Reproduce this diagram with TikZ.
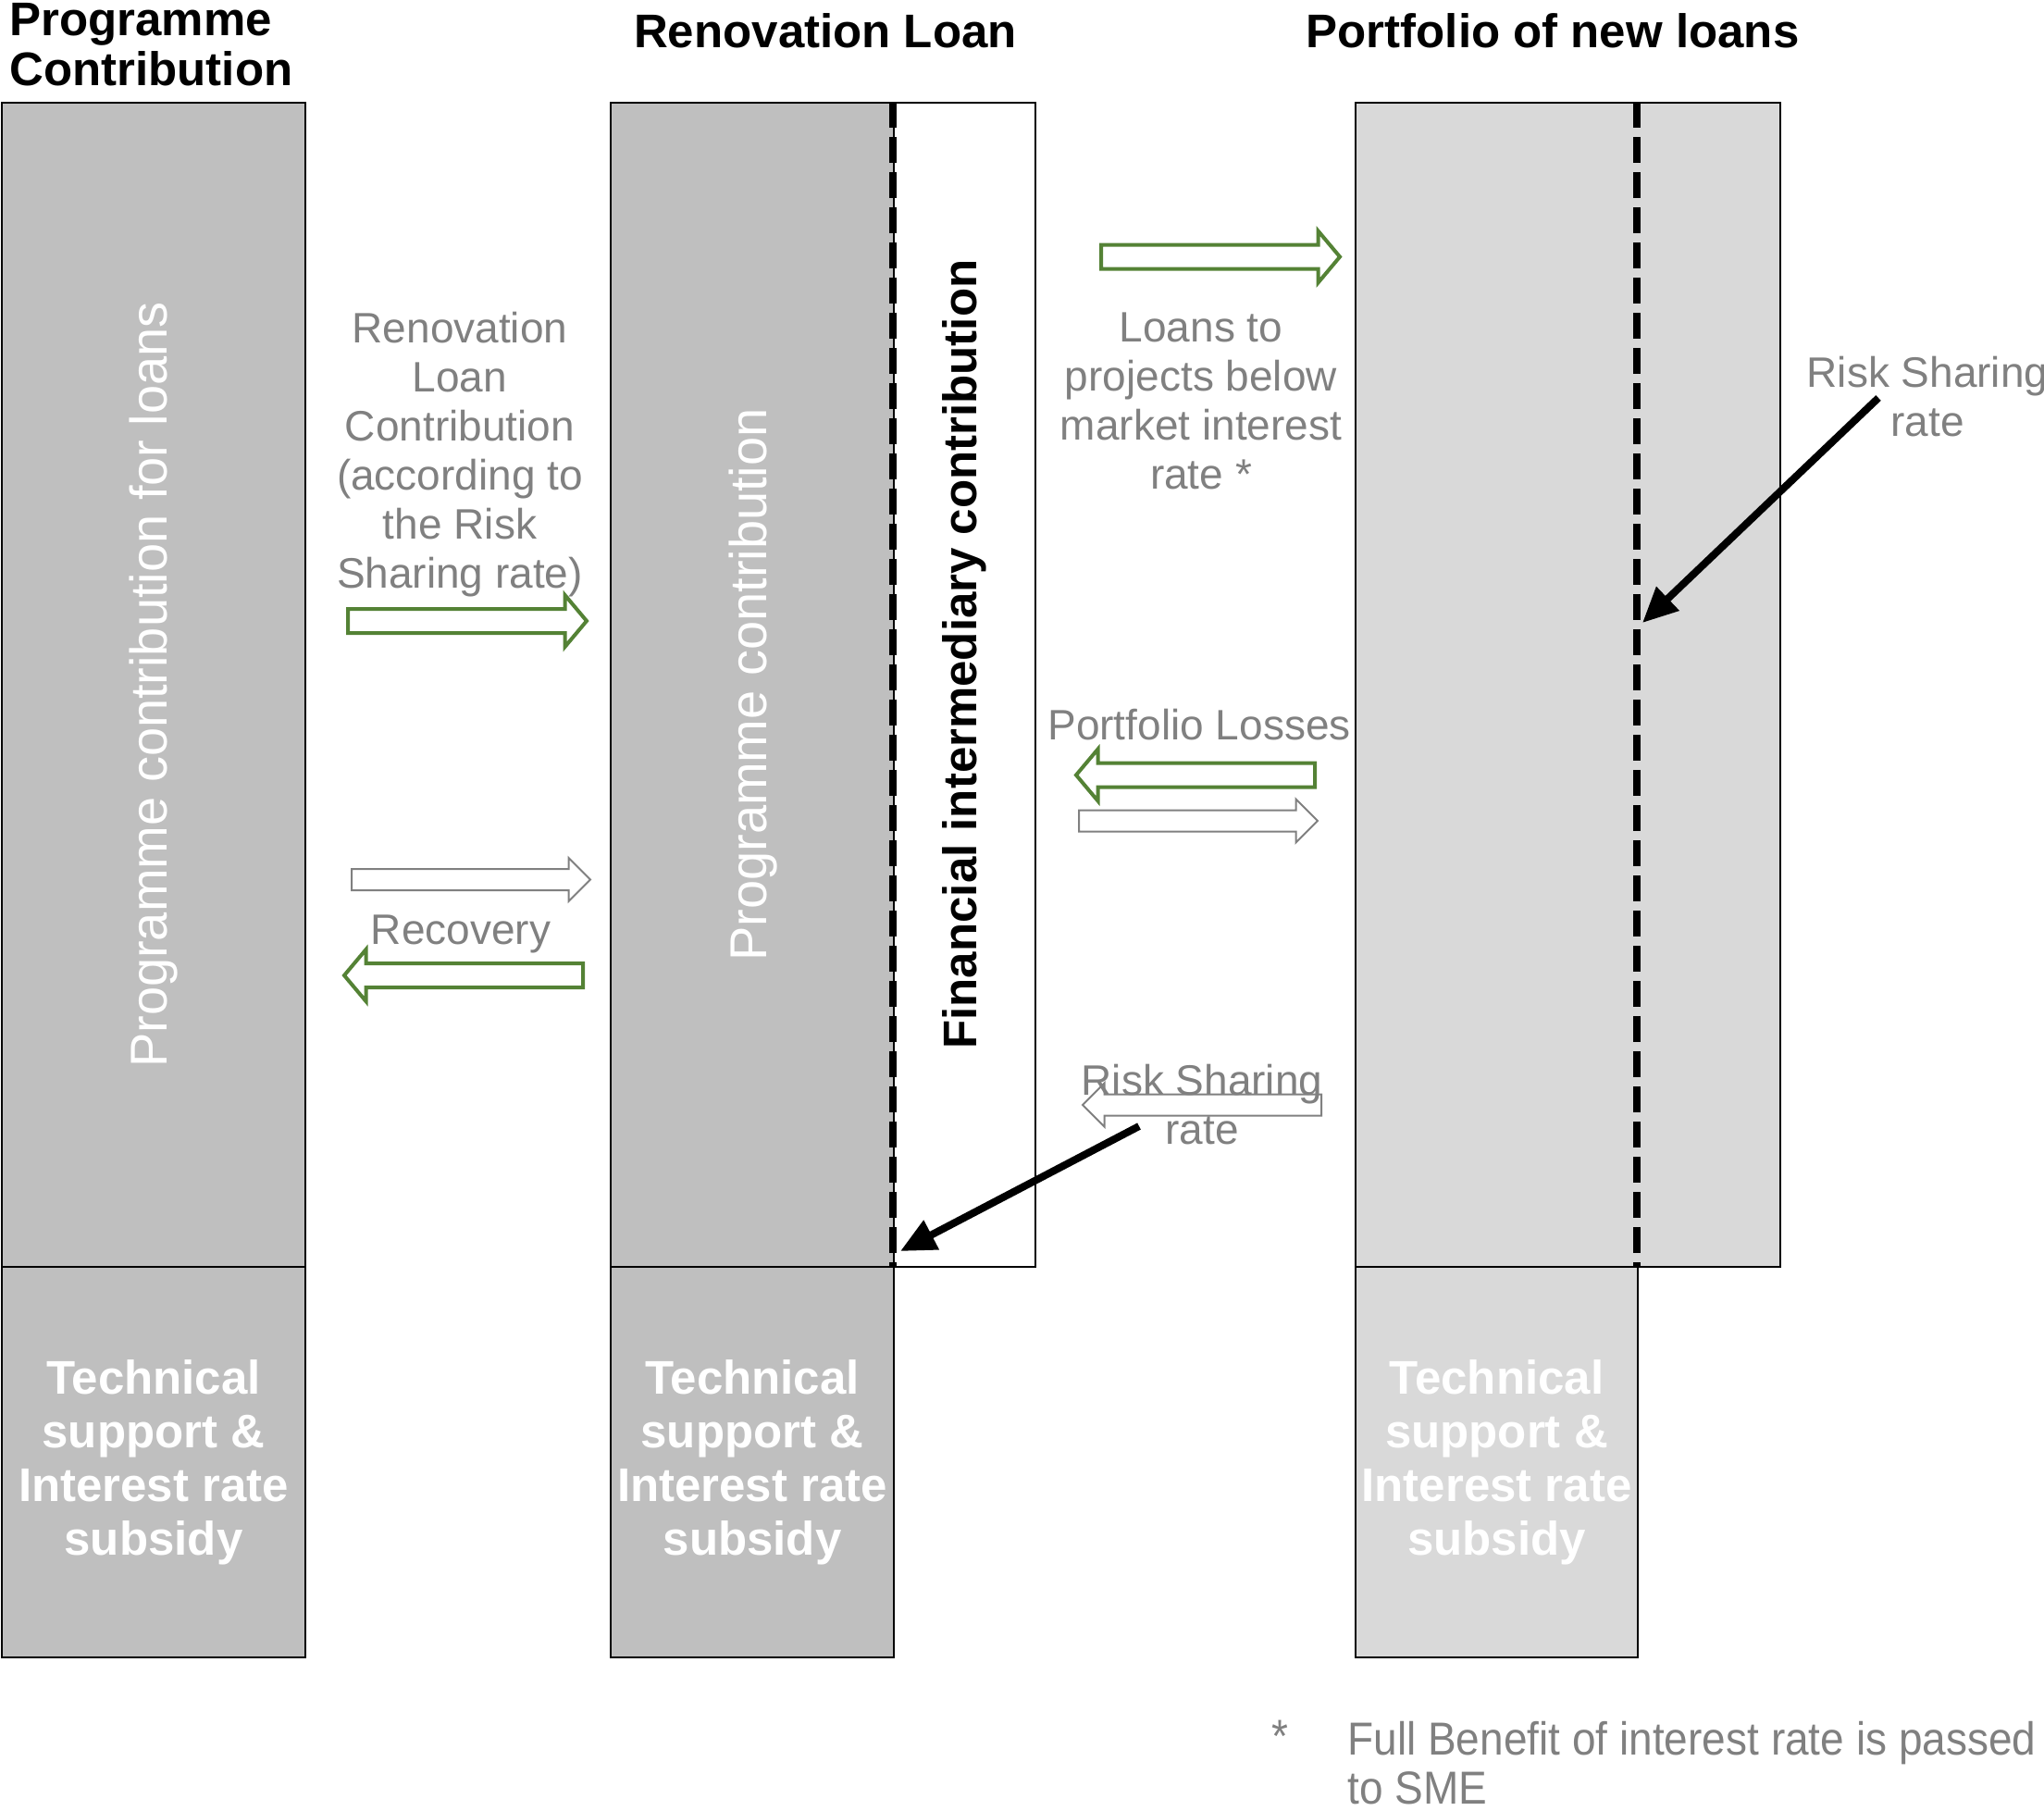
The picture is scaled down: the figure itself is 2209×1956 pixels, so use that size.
\documentclass[tikz,border=0pt]{standalone}
\usepackage{fontspec}
\setmainfont{Liberation Sans}
\newfontfamily\notefont[FakeStretch=0.92]{Liberation Sans}
\usetikzlibrary{arrows.meta,shapes.arrows}
\definecolor{boxgray}{RGB}{191,191,191}
\definecolor{boxlight}{RGB}{217,217,217}
\definecolor{flowgreen}{RGB}{84,130,53}
\definecolor{labelgray}{RGB}{128,128,128}

\begin{document}
\begin{tikzpicture}[x=0.5pt,y=-0.5pt,
  box/.style={draw,line width=1pt,inner sep=0pt,anchor=north west,fill=boxgray},
  tallbox/.style={box,minimum height=629pt},
  lowbox/.style={box,minimum height=211pt,align=center,text=white,font=\fontsize{25.5pt}{29pt}\selectfont\bfseries},
  title/.style={inner sep=0pt,font=\fontsize{25.5pt}{27pt}\selectfont\bfseries},
  flowlabel/.style={inner sep=0pt,align=center,text=labelgray,font=\fontsize{23pt}{26.5pt}\selectfont},
  sidelabel/.style={inner sep=0pt,rotate=90,text=white,font=\fontsize{28pt}{32pt}\selectfont},
  greenflow/.style={single arrow,draw=flowgreen,line width=2pt,fill=white,inner sep=0pt,inner ysep=5.5pt,minimum width=0pt,minimum height=129pt,single arrow head extend=7.5pt,single arrow tip angle=100},
  grayflow/.style={single arrow,draw=labelgray,line width=1pt,fill=white,inner sep=0pt,inner ysep=5.25pt,minimum width=0pt,minimum height=129pt,single arrow head extend=6pt,single arrow tip angle=90},
  backward/.style={shape border rotate=180},
  dashline/.style={line width=4pt,dash pattern=on 14pt off 5pt},
  riskarrow/.style={line width=4pt,-{Triangle[length=19pt,width=17pt]}}]
  \useasboundingbox (0,0) rectangle (2209,1956);

  % columns
  \node[tallbox,minimum width=164pt] (pcup) at (1,110) {};
  \node[lowbox,minimum width=164pt] (pclow) at (1,1368) {Technical\\support \&\\Interest rate\\subsidy};
  \node[tallbox,minimum width=153pt] (rlprog) at (659,110) {};
  \node[tallbox,minimum width=76.5pt,fill=white] (rlfi) at (965,110) {};
  \node[lowbox,minimum width=153pt] (rllow) at (659,1368) {Technical\\support \&\\Interest rate\\subsidy};
  \node[tallbox,minimum width=229.5pt,fill=boxlight] (pfup) at (1464,110) {};
  \node[lowbox,minimum width=152.5pt,fill=boxlight] (pflow) at (1464,1368) {Technical\\support \&\\Interest rate\\subsidy};
  \coordinate (pfsplit) at (1769,110);
  \draw[dashline] (rlfi.north west) -- (rlfi.south west);
  \draw[dashline] (pfsplit) -- (pfsplit |- pfup.south);

  \node[sidelabel] (pclabel) at (166,740) {Programme contribution for loans};
  \node[sidelabel] (rllabel) at (814,740) {Programme contribution};
  \node[rotate=90,inner sep=0pt,font=\fontsize{25.5pt}{29pt}\selectfont\bfseries] (filabel) at (1042,707) {Financial intermediary contribution};

  % headings
  \node[title,anchor=north west,align=left] (pctitle) at (10,3) {Programme\\Contribution};
  \node[title,anchor=base] (rltitle) at (892,51) {Renovation Loan};
  \node[title,anchor=base] (pftitle) at (1678,51) {Portfolio of new loans};

  % flows
  \node[greenflow,anchor=tail] (a1) at (374,671) {};
  \node[grayflow,anchor=tail] (a2) at (379,950.5) {};
  \node[greenflow,backward,anchor=tail] (a3) at (632,1054) {};
  \node[greenflow,anchor=tail] (a4) at (1188,277.5) {};
  \node[greenflow,backward,anchor=tail] (a5) at (1423,837.5) {};
  \node[grayflow,anchor=tail] (a6) at (1165,887) {};
  \node[grayflow,backward,anchor=tail] (a7) at (1429,1194) {};

  \node[flowlabel] (rlcontrib) at (497,491) {Renovation\\Loan\\Contribution\\(according to\\the Risk\\Sharing rate)};
  \node[flowlabel] (recovlabel) at (498,1009) {Recovery};
  \node[flowlabel] (loanlabel) at (1298,433) {Loans to\\projects below\\market interest\\rate *};
  \node[flowlabel] (losslabel) at (1296,783) {Portfolio Losses};
  \node[flowlabel] (rsmid) at (1299,1194) {Risk Sharing\\rate};
  \node[flowlabel] (rsright) at (2083,429) {Risk Sharing\\rate};

  % risk sharing pointers
  \coordinate (rsmidfoot) at (1231,1217);
  \coordinate (fitip) at (973,1352);
  \coordinate (rsrightfoot) at (2030,430);
  \coordinate (pftip) at (1775,673);
  \draw[riskarrow] (rsmidfoot) -- (fitip);
  \draw[riskarrow] (rsrightfoot) -- (pftip);

  % footnote
  \node[inner sep=0pt,text=labelgray,font=\notefont\fontsize{25pt}{26.5pt}\selectfont] (notestar) at (1383,1876) {*};
  \node[inner sep=0pt,anchor=north west,align=left,text=labelgray,font=\notefont\fontsize{25pt}{26.5pt}\selectfont] (notetext) at (1456,1860) {Full Benefit of interest rate is passed\\to SME};
\end{tikzpicture}
\end{document}
